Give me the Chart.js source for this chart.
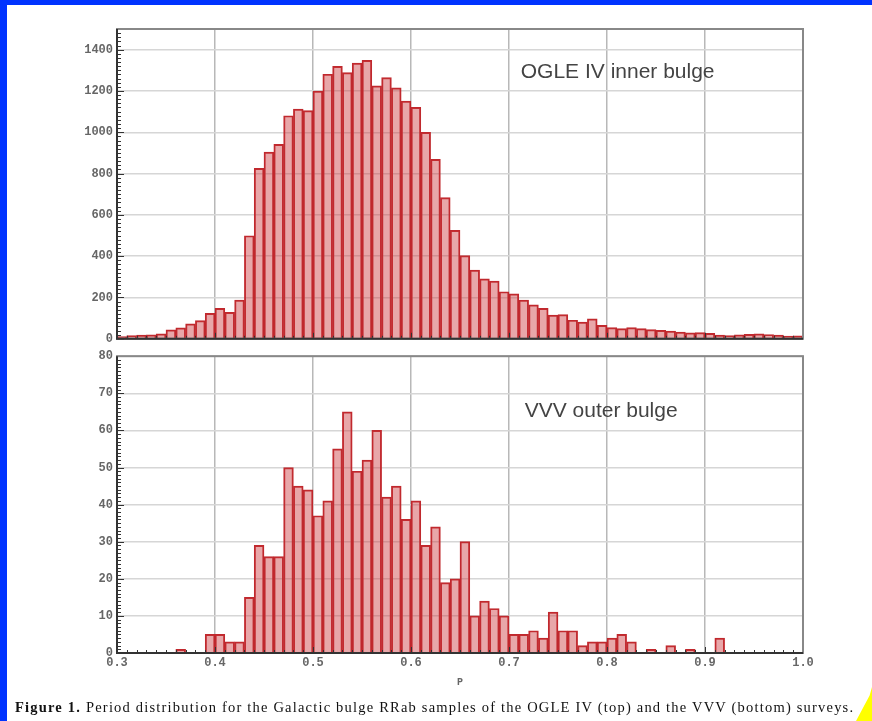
<!DOCTYPE html>
<html>
<head>
<meta charset="utf-8">
<title>RRab period distribution</title>
<script src="https://cdn.jsdelivr.net/npm/chart.js@4.4.0/dist/chart.umd.min.js"></script>
<style>
  body { margin: 0; background: #fff; }
  #page { position: relative; width: 872px; height: 721px; background: #fff; overflow: hidden; }
  #bandTop { position: absolute; left: 0; top: 0; width: 872px; height: 5px; background: #0033ff; }
  #bandLeft { position: absolute; left: 0; top: 0; width: 7px; height: 721px; background: #0033ff; }
  #corner { position: absolute; right: 0; bottom: 0; width: 16px; height: 34px; background: #ffff00;
            clip-path: polygon(0 100%, 100% 100%, 100% 0, 85% 25%); }
  canvas { position: absolute; left: 0; }
  #ogle { top: 0; }
  #vvv { top: 345px; }
  #caption { position: absolute; left: 15px; top: 699px; white-space: nowrap; color: #111;
             font: 14.5px "Liberation Serif", "Times New Roman", serif; letter-spacing: 1.2px; }
</style>
</head>
<body>
<div id="page">
  <div id="bandTop"></div>
  <div id="bandLeft"></div>
  <canvas id="ogle" width="872" height="350"></canvas>
  <canvas id="vvv" width="872" height="345"></canvas>
  <div id="caption"><b>Figure 1.</b> Period distribution for the Galactic bulge RRab samples of the OGLE IV (top) and the VVV (bottom) surveys.</div>
  <div id="corner"></div>
</div>
<script>
'use strict';

// bin centres of the period histogram, 0.01 wide
const periods = [
  0.305, 0.315, 0.325, 0.335, 0.345, 0.355, 0.365, 0.375, 0.385, 0.395,
  0.405, 0.415, 0.425, 0.435, 0.445, 0.455, 0.465, 0.475, 0.485, 0.495,
  0.505, 0.515, 0.525, 0.535, 0.545, 0.555, 0.565, 0.575, 0.585, 0.595,
  0.605, 0.615, 0.625, 0.635, 0.645, 0.655, 0.665, 0.675, 0.685, 0.695,
  0.705, 0.715, 0.725, 0.735, 0.745, 0.755, 0.765, 0.775, 0.785, 0.795,
  0.805, 0.815, 0.825, 0.835, 0.845, 0.855, 0.865, 0.875, 0.885, 0.895,
  0.905, 0.915, 0.925, 0.935, 0.945, 0.955, 0.965, 0.975, 0.985, 0.995
];

// OGLE IV inner bulge counts per bin
const ogleCounts = [
  11, 16, 18, 19, 24, 43, 53, 72, 88, 123,
  147, 128, 187, 499, 825, 904, 941, 1080, 1112, 1105,
  1199, 1281, 1319, 1289, 1335, 1348, 1225, 1265, 1215, 1151,
  1121, 1000, 869, 684, 525, 403, 333, 290, 279, 228,
  218, 187, 164, 147, 115, 117, 90, 81, 97, 65,
  54, 49, 54, 49, 45, 41, 37, 32, 29, 30,
  26, 18, 16, 19, 22, 24, 21, 18, 13, 14
];

// VVV outer bulge counts per bin
const vvvCounts = [
  0, 0, 0, 0, 0, 0, 1, 0, 0, 5,
  5, 3, 3, 15, 29, 26, 26, 50, 45, 44,
  37, 41, 55, 65, 49, 52, 60, 42, 45, 36,
  41, 29, 34, 19, 20, 30, 10, 14, 12, 10,
  5, 5, 6, 4, 11, 6, 6, 2, 3, 3,
  4, 5, 3, 0, 1, 0, 2, 0, 1, 0,
  0, 4, 0, 0, 0, 0, 0, 0, 0, 0
];

const periodTicks = [0.3, 0.4, 0.5, 0.6, 0.7, 0.8, 0.9, 1.0];
const ogleTicks = [0, 200, 400, 600, 800, 1000, 1200, 1400];
const vvvTicks = [0, 10, 20, 30, 40, 50, 60, 70, 80];

const tickFont = { family: '"Liberation Mono", "DejaVu Sans Mono", monospace', size: 12, weight: 'bold' };

// box round the plot plus the small inward tick marks
const framePlugin = {
  id: 'frame',
  afterDatasetsDraw(chart, args, opts) {
    const { ctx, chartArea: a, scales: { x, y } } = chart;
    ctx.save();
    ctx.strokeStyle = '#333';
    ctx.lineWidth = 1;
    ctx.beginPath();
    let n = Math.round((x.max - x.min) / opts.xMinor);
    for (let i = 0; i <= n; i++) {
      const px = Math.round(x.getPixelForValue(x.min + i * opts.xMinor)) + 0.5;
      ctx.moveTo(px, a.bottom);
      ctx.lineTo(px, a.bottom - (i % 10 === 0 ? 6 : 3));
    }
    n = Math.round((y.max - y.min) / opts.yMinor);
    for (let i = 0; i <= n; i++) {
      const py = Math.round(y.getPixelForValue(y.min + i * opts.yMinor)) + 0.5;
      ctx.moveTo(a.left, py);
      ctx.lineTo(a.left + (i % 10 === 0 ? 7 : 4), py);
    }
    ctx.stroke();

    ctx.strokeStyle = '#888';
    ctx.lineWidth = 2;
    ctx.strokeRect(a.left, a.top, a.width, a.height);
    ctx.strokeStyle = '#333';
    ctx.beginPath();
    ctx.moveTo(a.left, a.top);
    ctx.lineTo(a.left, a.bottom);
    ctx.lineTo(a.right, a.bottom);
    ctx.stroke();
    ctx.restore();
  }
};

// survey name written inside the panel
const labelPlugin = {
  id: 'panelLabel',
  afterDraw(chart, args, opts) {
    const { ctx, scales: { x, y } } = chart;
    ctx.save();
    ctx.font = '21px "Liberation Sans", Arial, sans-serif';
    ctx.fillStyle = '#444';
    ctx.textBaseline = 'middle';
    ctx.fillText(opts.text, x.getPixelForValue(opts.x), y.getPixelForValue(opts.y));
    ctx.restore();
  }
};

function makePanel(id, counts, yTicks, yMax, yMinor, label, showX) {
  const ctx = document.getElementById(id).getContext('2d');
  return new Chart(ctx, {
    type: 'bar',
    data: {
      datasets: [{
        data: periods.map((p, i) => ({ x: p, y: counts[i] })),
        backgroundColor: 'rgba(205, 60, 65, 0.45)',
        borderColor: '#c0282d',
        borderWidth: 1.3,
        barPercentage: 1,
        categoryPercentage: 1
      }]
    },
    options: {
      responsive: false,
      animation: false,
      layout: { padding: { top: showX ? 8 : 29, right: 69, left: 0, bottom: 0 } },
      plugins: {
        legend: { display: false },
        tooltip: { enabled: false },
        frame: { xMinor: 0.01, yMinor: yMinor },
        panelLabel: label
      },
      scales: {
        x: {
          type: 'linear',
          min: 0.3,
          max: 1.0,
          offset: false,
          afterBuildTicks: s => { s.ticks = periodTicks.map(v => ({ value: v })); },
          afterFit: s => { s.height = showX ? 37 : 8; },
          grid: { color: '#b8b8b8', lineWidth: 1.5, drawTicks: false, offset: false },
          border: { display: false },
          ticks: {
            display: showX,
            padding: 3,
            color: '#666',
            font: tickFont,
            callback: v => v.toFixed(1)
          },
          title: {
            display: showX,
            text: 'P',
            color: '#666',
            font: { family: tickFont.family, size: 10, weight: 'bold' },
            padding: { top: 0, bottom: 2 }
          }
        },
        y: {
          min: 0,
          max: yMax,
          afterBuildTicks: s => { s.ticks = yTicks.map(v => ({ value: v })); },
          afterFit: s => { s.width = 117; },
          grid: { color: '#d6d6d6', lineWidth: 1.5, drawTicks: false },
          border: { display: false },
          ticks: { padding: 4, color: '#666', font: tickFont, callback: v => String(v) }
        }
      }
    },
    plugins: [framePlugin, labelPlugin]
  });
}

makePanel('ogle', ogleCounts, ogleTicks, 1500, 20,
  { text: 'OGLE IV inner bulge', x: 0.712, y: 1292 }, false);
makePanel('vvv', vvvCounts, vvvTicks, 80, 1,
  { text: 'VVV outer bulge', x: 0.716, y: 65.3 }, true);
</script>
</body>
</html>
